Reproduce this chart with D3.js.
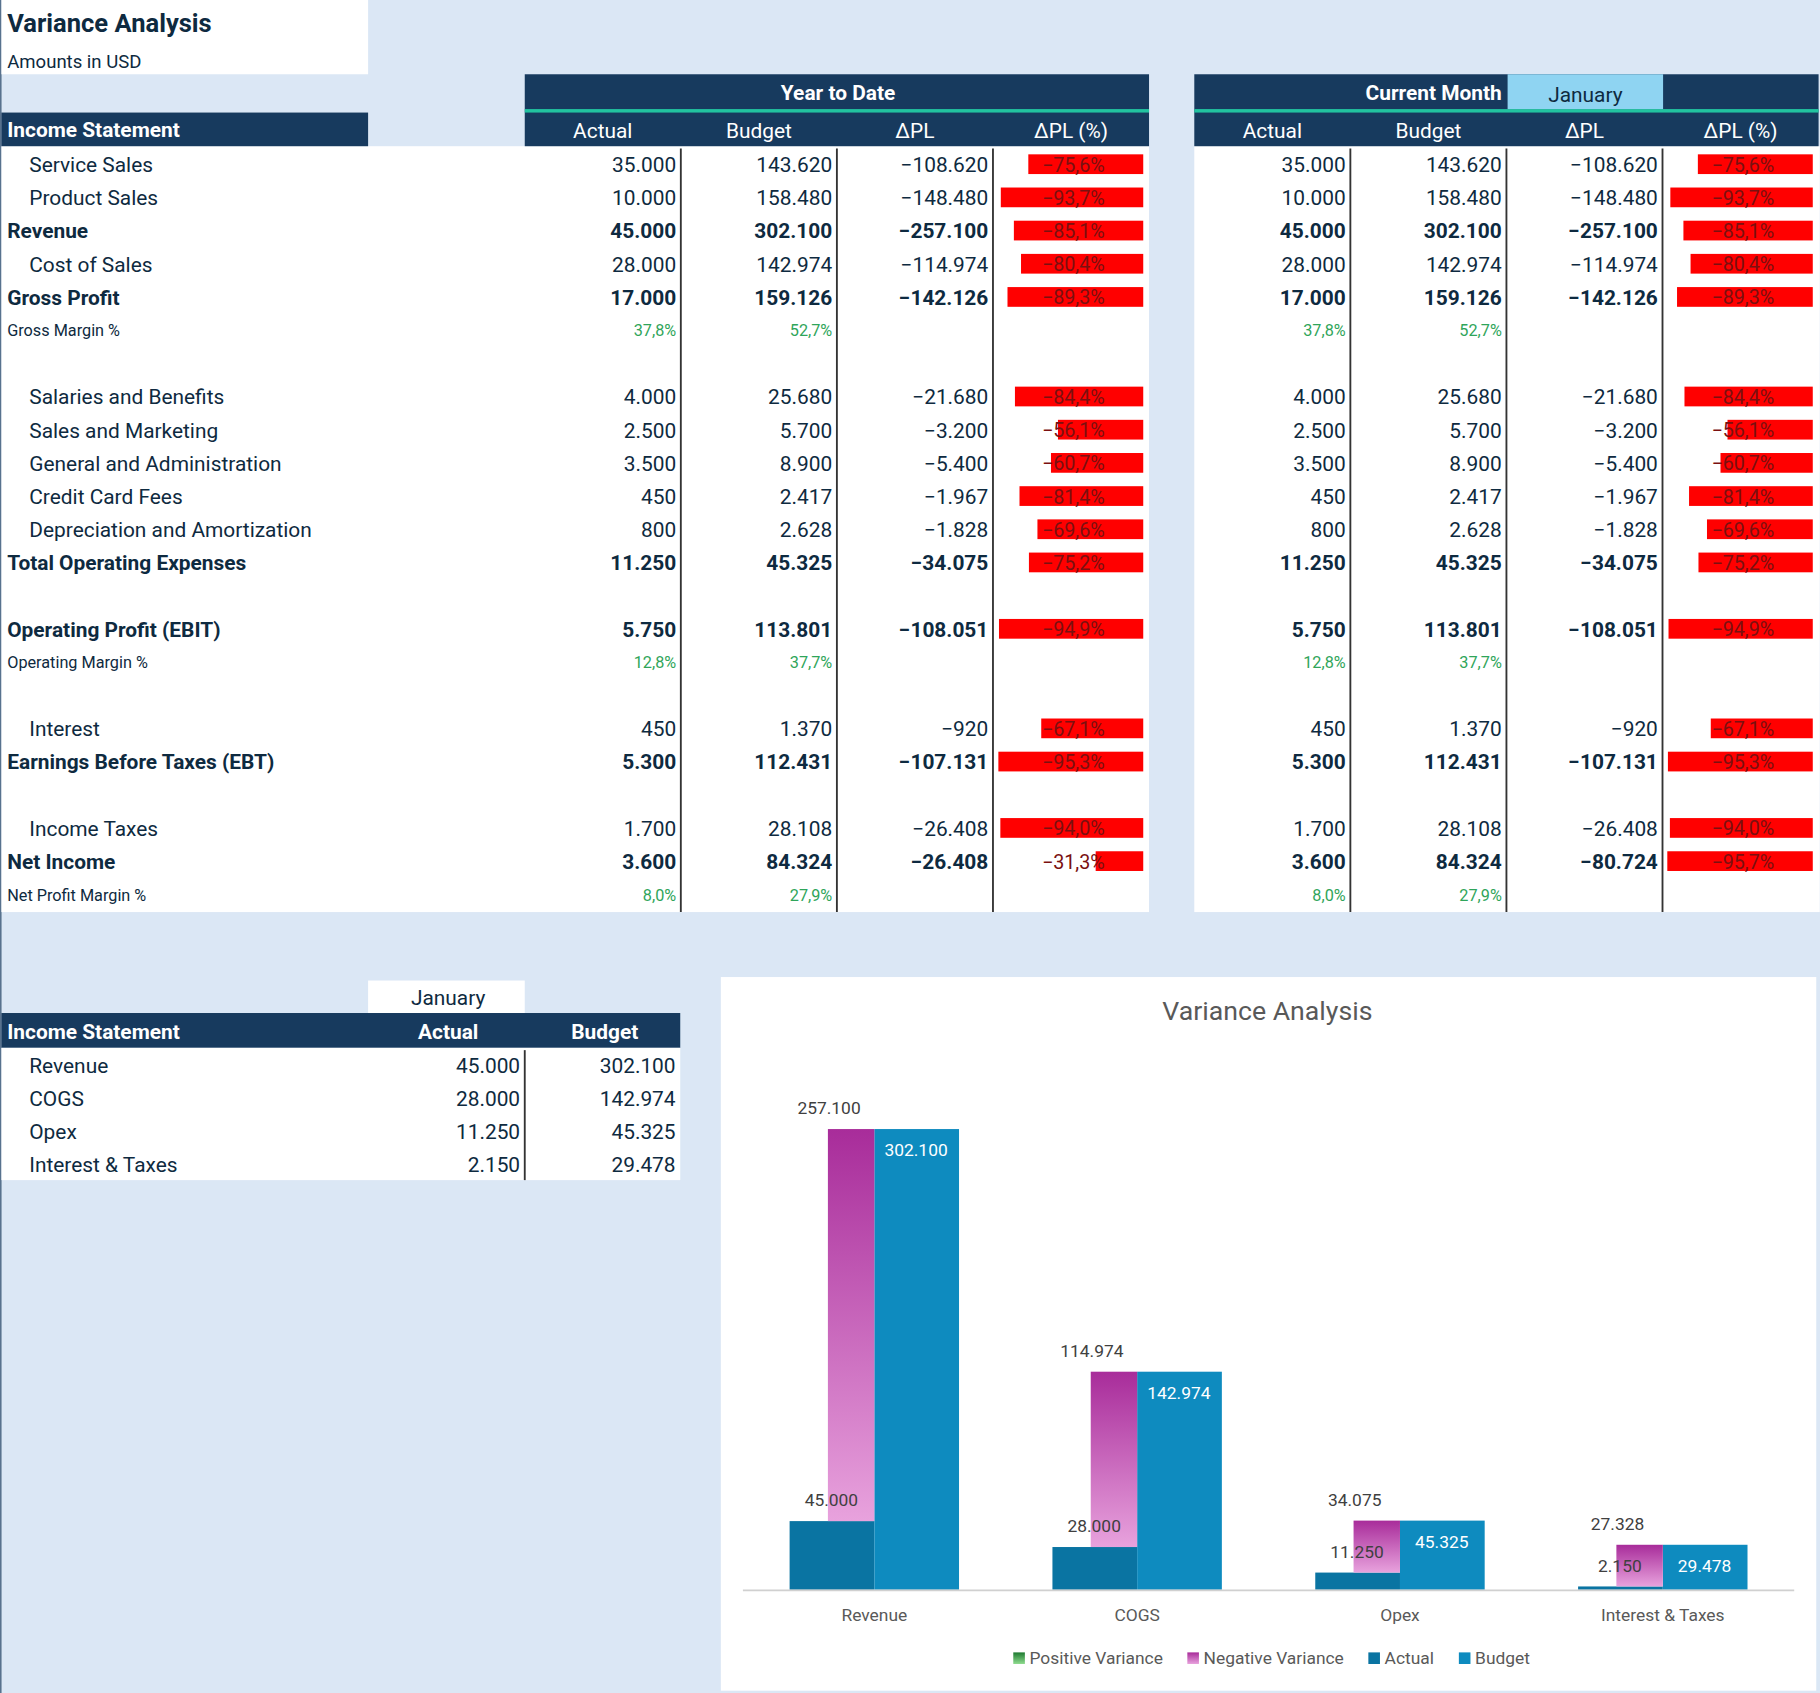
<!DOCTYPE html>
<html><head><meta charset="utf-8">
<script src="https://cdn.jsdelivr.net/npm/d3@7"></script>
<style>body{margin:0;background:#dbe7f5}svg{display:block;font-family:Roboto,"Noto Sans",sans-serif}</style>
</head><body>
<script>
// ---------- data ----------
const rowLabels = ["Service Sales","Product Sales","Revenue","Cost of Sales","Gross Profit","Gross Margin %","",
 "Salaries and Benefits","Sales and Marketing","General and Administration","Credit Card Fees","Depreciation and Amortization","Total Operating Expenses","",
 "Operating Profit (EBIT)","Operating Margin %","","Interest","Earnings Before Taxes (EBT)","","Income Taxes","Net Income","Net Profit Margin %"];
const rowKinds = ["item","item","total","item","total","pct","blank","item","item","item","item","item","total","blank","total","pct","blank","item","total","blank","item","total","pct"];
const actual = [35000,10000,45000,28000,17000,37.8,null,4000,2500,3500,450,800,11250,null,5750,12.8,null,450,5300,null,1700,3600,8.0];
const budget = [143620,158480,302100,142974,159126,52.7,null,25680,5700,8900,2417,2628,45325,null,113801,37.7,null,1370,112431,null,28108,84324,27.9];
const ytdDPL = [-108620,-148480,-257100,-114974,-142126,null,null,-21680,-3200,-5400,-1967,-1828,-34075,null,-108051,null,null,-920,-107131,null,-26408,-26408,null];
const ytdPct = [-75.6,-93.7,-85.1,-80.4,-89.3,null,null,-84.4,-56.1,-60.7,-81.4,-69.6,-75.2,null,-94.9,null,null,-67.1,-95.3,null,-94.0,-31.3,null];
const cmDPL  = [-108620,-148480,-257100,-114974,-142126,null,null,-21680,-3200,-5400,-1967,-1828,-34075,null,-108051,null,null,-920,-107131,null,-26408,-80724,null];
const cmPct  = [-75.6,-93.7,-85.1,-80.4,-89.3,null,null,-84.4,-56.1,-60.7,-81.4,-69.6,-75.2,null,-94.9,null,null,-67.1,-95.3,null,-94.0,-95.7,null];
const colHeads = ["Actual","Budget","ΔPL","ΔPL (%)"];
const month = "January";

const chartCats = ["Revenue","COGS","Opex","Interest & Taxes"];
const chartActual = [45000,28000,11250,2150];
const chartBudget = [302100,142974,45325,29478];
const chartVariance = [257100,114974,34075,27328];
const legendItems = ["Positive Variance","Negative Variance","Actual","Budget"];

// ---------- setup ----------
const loc = d3.formatLocale({decimal:",",thousands:".",grouping:[3],currency:["",""]});
const fNum = loc.format(",d"), fPct = loc.format(".1f");
const NAVY="#173a5e", TXT="#0e2a40", GREEN="#2fa55a";
const svg = d3.select("body").append("svg").attr("width",1820).attr("height",1693).attr("viewBox","0 0 1568 1459");
svg.append("rect").attr("width",1568).attr("height",1459).attr("fill","#dbe7f5");
svg.append("line").attr("x1",0.5).attr("x2",0.5).attr("y1",0).attr("y2",1459).attr("stroke","#2a4a6a");

// title
svg.append("rect").attr("x",1).attr("y",0).attr("width",316).attr("height",64).attr("fill","#fff");
svg.append("text").attr("x",6).attr("y",28).attr("font-size",22).attr("font-weight",700).attr("fill",TXT).text("Variance Analysis");
svg.append("text").attr("x",6).attr("y",59).attr("font-size",16).attr("fill",TXT).text("Amounts in USD");

const rowY = d3.scaleLinear().domain([0,1]).range([142,170.6]);
// body white
svg.append("rect").attr("x",1).attr("y",126).attr("width",989).attr("height",660).attr("fill","#fff");
svg.append("rect").attr("x",1029).attr("y",126).attr("width",539).attr("height",660).attr("fill","#fff");
// header
svg.append("rect").attr("x",1).attr("y",97).attr("width",316).attr("height",29).attr("fill",NAVY);
svg.append("text").attr("x",6).attr("y",118).attr("font-size",18).attr("font-weight",700).attr("fill","#fff").text("Income Statement");

const barW = d3.scaleLinear().domain([0,100]).range([0,131]);

function block(x0, title, dpl, pct, isCM){
  svg.append("rect").attr("x",x0).attr("y",64).attr("width",538).attr("height",62).attr("fill",NAVY);
  svg.append("rect").attr("x",x0).attr("y",94).attr("width",538).attr("height",3).attr("fill","#22c3a0");
  if(!isCM){
    svg.append("text").attr("x",x0+270).attr("y",86).attr("text-anchor","middle").attr("font-size",18).attr("font-weight",700).attr("fill","#fff").text(title);
  } else {
    svg.append("text").attr("x",x0+265).attr("y",86).attr("text-anchor","end").attr("font-size",18).attr("font-weight",700).attr("fill","#fff").text(title);
    svg.append("rect").attr("x",x0+270).attr("y",64).attr("width",134).attr("height",30).attr("fill","#8fd4f2");
    svg.append("text").attr("x",x0+337).attr("y",88).attr("text-anchor","middle").attr("font-size",18).attr("fill",TXT).text(month);
  }
  const cx = d3.scaleBand().domain(colHeads).range([x0,x0+538]);
  colHeads.forEach(h=>svg.append("text").attr("x",cx(h)+cx.bandwidth()/2).attr("y",119).attr("text-anchor","middle").attr("font-size",18).attr("fill","#fff").text(h));
  colHeads.slice(1).forEach(h=>svg.append("line").attr("x1",cx(h)).attr("x2",cx(h)).attr("y1",128).attr("y2",786).attr("stroke","#333").attr("stroke-width",1.6));
  const cols=[actual,budget,dpl];
  rowLabels.forEach((l,i)=>{
    const k=rowKinds[i]; if(k==="blank") return;
    const y=rowY(i);
    cols.forEach((arr,j)=>{
      const v=arr[i]; if(v==null) return;
      const t=svg.append("text").attr("x",cx(colHeads[j])+cx.bandwidth()-4).attr("y",y).attr("dy","0.35em").attr("text-anchor","end");
      if(k==="pct") t.attr("font-size",14).attr("fill",GREEN).text(fPct(v)+"%");
      else t.attr("font-size",18).attr("font-weight",k==="total"?700:400).attr("fill",TXT).text(fNum(v));
    });
    const p=pct[i];
    if(p!=null){
      const right=cx(colHeads[3])+cx.bandwidth()-5, w=barW(Math.abs(p));
      svg.append("rect").attr("x",right-w).attr("y",y-9).attr("width",w).attr("height",17).attr("fill","#ff0000");
      svg.append("text").attr("x",cx(colHeads[3])+cx.bandwidth()/2+2).attr("y",y).attr("dy","0.35em").attr("text-anchor","middle").attr("font-size",17).attr("fill","#7a1010").text(fPct(p)+"%");
    }
  });
}
block(452,"Year to Date",ytdDPL,ytdPct,false);
block(1029,"Current Month",cmDPL,cmPct,true);

rowLabels.forEach((l,i)=>{
  const k=rowKinds[i]; if(k==="blank") return;
  svg.append("text").attr("x",k==="item"?25:6).attr("y",rowY(i)).attr("dy","0.35em")
    .attr("font-size",k==="pct"?14:18).attr("font-weight",k==="total"?700:400).attr("fill",TXT).text(l);
});

// ---------- bottom table ----------
svg.append("rect").attr("x",317).attr("y",845).attr("width",135).attr("height",28).attr("fill","#fff");
svg.append("text").attr("x",386).attr("y",866).attr("text-anchor","middle").attr("font-size",18).attr("fill",TXT).text(month);
svg.append("rect").attr("x",1).attr("y",873).attr("width",585).attr("height",30).attr("fill",NAVY);
svg.append("text").attr("x",6).attr("y",895).attr("font-size",18).attr("font-weight",700).attr("fill","#fff").text("Income Statement");
svg.append("text").attr("x",386).attr("y",895).attr("text-anchor","middle").attr("font-size",18).attr("font-weight",700).attr("fill","#fff").text("Actual");
svg.append("text").attr("x",521).attr("y",895).attr("text-anchor","middle").attr("font-size",18).attr("font-weight",700).attr("fill","#fff").text("Budget");
svg.append("rect").attr("x",1).attr("y",903).attr("width",585).attr("height",114).attr("fill","#fff");
svg.append("line").attr("x1",452).attr("x2",452).attr("y1",905).attr("y2",1017).attr("stroke","#333").attr("stroke-width",1.6);
const ty = d3.scaleLinear().domain([0,1]).range([918,946.7]);
chartCats.forEach((c,i)=>{
  const y=ty(i);
  svg.append("text").attr("x",25).attr("y",y).attr("dy","0.35em").attr("font-size",18).attr("fill",TXT).text(c);
  svg.append("text").attr("x",448).attr("y",y).attr("dy","0.35em").attr("text-anchor","end").attr("font-size",18).attr("fill",TXT).text(fNum(chartActual[i]));
  svg.append("text").attr("x",582).attr("y",y).attr("dy","0.35em").attr("text-anchor","end").attr("font-size",18).attr("fill",TXT).text(fNum(chartBudget[i]));
});

// ---------- chart ----------
svg.append("rect").attr("x",621).attr("y",842).attr("width",944).attr("height",615).attr("fill","#fff");
svg.append("text").attr("x",1092).attr("y",879).attr("text-anchor","middle").attr("font-size",23).attr("fill","#595959").text("Variance Analysis");
const defs=svg.append("defs");
const gN=defs.append("linearGradient").attr("id","neg").attr("x1",0).attr("x2",0).attr("y1",0).attr("y2",1);
gN.append("stop").attr("offset",0).attr("stop-color","#a82c9a");gN.append("stop").attr("offset",1).attr("stop-color","#e8a2dd");
const gP=defs.append("linearGradient").attr("id","pos").attr("x1",0).attr("x2",0).attr("y1",0).attr("y2",1);
gP.append("stop").attr("offset",0).attr("stop-color","#1e7a30");gP.append("stop").attr("offset",1).attr("stop-color","#8fdc8f");

const x = d3.scaleBand().domain(chartCats).range([640,1546]);
const y = d3.scaleLinear().domain([0,302100]).range([1370,973]);
const bw=73, vw=40;
chartCats.forEach((c,i)=>{
  const cx=x(c)+x.bandwidth()/2;
  svg.append("rect").attr("x",cx-bw).attr("y",y(chartActual[i])).attr("width",bw).attr("height",y(0)-y(chartActual[i])).attr("fill","#0a74a2");
  svg.append("rect").attr("x",cx).attr("y",y(chartBudget[i])).attr("width",bw).attr("height",y(0)-y(chartBudget[i])).attr("fill","#0e8bbf");
  const vt=y(chartActual[i]+chartVariance[i]);
  svg.append("rect").attr("x",cx-vw).attr("y",vt).attr("width",vw).attr("height",y(chartActual[i])-vt).attr("fill","url(#neg)");
  svg.append("text").attr("x",cx-39).attr("y",vt-18).attr("dy","0.35em").attr("text-anchor","middle").attr("font-size",15).attr("fill","#404040").text(fNum(chartVariance[i]));
  svg.append("text").attr("x",cx-37).attr("y",y(chartActual[i])-18).attr("dy","0.35em").attr("text-anchor","middle").attr("font-size",15).attr("fill","#404040").text(fNum(chartActual[i]));
  svg.append("text").attr("x",cx+36).attr("y",y(chartBudget[i])+18).attr("dy","0.35em").attr("text-anchor","middle").attr("font-size",15).attr("fill","#fff").text(fNum(chartBudget[i]));
  svg.append("text").attr("x",cx).attr("y",1392).attr("dy","0.35em").attr("text-anchor","middle").attr("font-size",15).attr("fill","#595959").text(c);
});
svg.append("line").attr("x1",640).attr("x2",1546).attr("y1",1370.5).attr("y2",1370.5).attr("stroke","#d0d0d0").attr("stroke-width",1.5);
const legX=[873,1023,1179,1257], legFill=["url(#pos)","url(#neg)","#0a74a2","#0e8bbf"];
legendItems.forEach((t,i)=>{
  svg.append("rect").attr("x",legX[i]).attr("y",1424).attr("width",10).attr("height",10).attr("fill",legFill[i]);
  svg.append("text").attr("x",legX[i]+14).attr("y",1429).attr("dy","0.35em").attr("font-size",15).attr("fill","#595959").text(t);
});
</script>
</body></html>
